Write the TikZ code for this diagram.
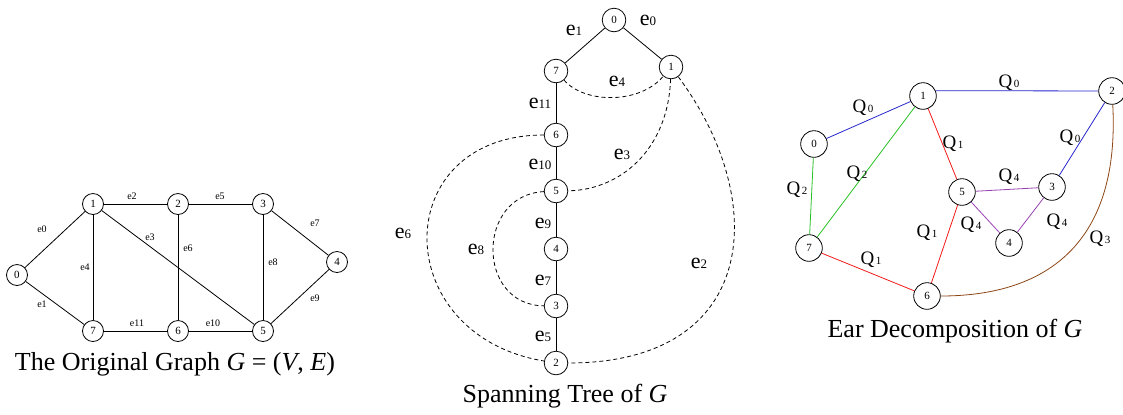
\documentclass[tikz,border=0pt]{standalone}
\usepackage{fontspec}
\setmainfont{Liberation Serif}
\usepackage{xcolor}
\definecolor{EarBlue}{rgb}{0.15, 0.15, 0.8}
\definecolor{EarRed}{rgb}{0.95, 0.1, 0.1}
\definecolor{EarGreen}{rgb}{0.15, 0.75, 0.15}
\definecolor{EarViolet}{rgb}{0.6, 0.25, 0.7}
\definecolor{EarBrown}{rgb}{0.55, 0.27, 0.08}
\usepackage{tikz}
\usetikzlibrary{calc, positioning}
\newcommand{\EL}[1]{{\fontsize{11}{12}\selectfont e}{\fontsize{6.5}{7}\selectfont #1}}
\newcommand{\QL}[1]{Q\kern0.8pt{\fontsize{5.5}{6}\selectfont #1}}

\begin{document}
\begin{tikzpicture}[
        x=0.5pt, y=-0.5pt,
        % Styles
        orig_vertex/.style={circle, draw, inner sep=0pt, minimum size=10.5pt, font=\fontsize{5.5}{6}\selectfont},
        tree_vertex/.style={orig_vertex, minimum size=11.8pt},
        ear_vertex/.style={orig_vertex, minimum size=13.3pt},
        orig_label/.style={inner sep=0pt, font=\fontsize{5}{6}\selectfont},
        tree_label/.style={inner sep=0pt},
        ear_label/.style={inner sep=0pt, font=\fontsize{9.5}{10}\selectfont},
        back_edge/.style={dash pattern=on 2pt off 1.5pt},
        fig_caption/.style={inner sep=0pt, font=\fontsize{13}{15}\selectfont}
    ]
    \useasboundingbox (0,0) rectangle (1123,414);

    % 1. THE ORIGINAL GRAPH
    \node[orig_vertex] (g0) at (17,275) {0};
    \node[orig_vertex] (g1) at (93,204) {1};
    \node[orig_vertex] (g2) at (178,204) {2};
    \node[orig_vertex] (g3) at (263,204) {3};
    \node[orig_vertex] (g4) at (337,262) {4};
    \node[orig_vertex] (g5) at (263,331) {5};
    \node[orig_vertex] (g6) at (178,331) {6};
    \node[orig_vertex] (g7) at (93,331) {7};
    \draw (g0) -- (g1);
    \draw (g0) -- (g7);
    \draw (g1) -- (g2);
    \draw (g1) -- (g5);
    \draw (g1) -- (g7);
    \draw (g2) -- (g3);
    \draw (g2) -- (g6);
    \draw (g3) -- (g4);
    \draw (g3) -- (g5);
    \draw (g4) -- (g5);
    \draw (g5) -- (g6);
    \draw (g6) -- (g7);
    \node[orig_label] (ge0) at (42,229) {e0};
    \node[orig_label] (ge1) at (42,304) {e1};
    \node[orig_label] (ge2) at (132,196) {e2};
    \node[orig_label] (ge3) at (150,237) {e3};
    \node[orig_label] (ge4) at (85,267) {e4};
    \node[orig_label] (ge5) at (220,196) {e5};
    \node[orig_label] (ge6) at (188,248) {e6};
    \node[orig_label] (ge7) at (315,223) {e7};
    \node[orig_label] (ge8) at (273,262) {e8};
    \node[orig_label] (ge9) at (315,298) {e9};
    \node[orig_label] (ge10) at (213,323) {e10};
    \node[orig_label] (ge11) at (137,323) {e11};
    \node[fig_caption] (gcap) at (175,364) {The Original Graph \textit{G} = (\textit{V}, \textit{E})};

    % 2. THE SPANNING TREE (dashed = non-tree edges)
    \node[tree_vertex] (t0) at (614,20) {0};
    \node[tree_vertex] (t1) at (671,67) {1};
    \node[tree_vertex] (t7) at (556,71) {7};
    \node[tree_vertex] (t6) at (556,135) {6};
    \node[tree_vertex] (t5) at (556,191) {5};
    \node[tree_vertex] (t4) at (556,249) {4};
    \node[tree_vertex] (t3) at (556,306) {3};
    \node[tree_vertex] (t2) at (556,363) {2};
    \draw (t0) -- (t1);
    \draw (t0) -- (t7);
    \draw (t7) -- (t6);
    \draw (t6) -- (t5);
    \draw (t5) -- (t4);
    \draw (t4) -- (t3);
    \draw (t3) -- (t2);
    \draw[back_edge] (t7) .. controls (585,104) and (640,104) .. (t1);
    \draw[back_edge] (t1) .. controls (668,150) and (620,190) .. (t5);
    \draw[back_edge] (t1) .. controls (770,200) and (760,363) .. (t2);
    \draw[back_edge] (t6) .. controls (388,135) and (388,335) .. (t2);
    \draw[back_edge] (t5) .. controls (476,195) and (476,305) .. (t3);
    \node[tree_label] (te0) at (648,20) {\EL{0}};
    \node[tree_label] (te1) at (574,30) {\EL{1}};
    \node[tree_label] (te2) at (699,263) {\EL{2}};
    \node[tree_label] (te3) at (622,154) {\EL{3}};
    \node[tree_label] (te4) at (617,81) {\EL{4}};
    \node[tree_label] (te5) at (543,336) {\EL{5}};
    \node[tree_label] (te6) at (403,233) {\EL{6}};
    \node[tree_label] (te7) at (543,280) {\EL{7}};
    \node[tree_label] (te8) at (476,249) {\EL{8}};
    \node[tree_label] (te9) at (543,223) {\EL{9}};
    \node[tree_label] (te10) at (540,164) {\EL{10}};
    \node[tree_label] (te11) at (540,103) {\EL{11}};
    \node[fig_caption] (tcap) at (565,396) {Spanning Tree of \textit{G}};

    % 3. THE EAR DECOMPOSITION
    \node[ear_vertex] (d0) at (814,144) {0};
    \node[ear_vertex] (d1) at (923,96) {1};
    \node[ear_vertex] (d2) at (1112,91) {2};
    \node[ear_vertex] (d3) at (1052,187) {3};
    \node[ear_vertex] (d4) at (1009,243) {4};
    \node[ear_vertex] (d5) at (962,192) {5};
    \node[ear_vertex] (d6) at (927,296) {6};
    \node[ear_vertex] (d7) at (809,248) {7};
    \draw[EarBlue] (d0) -- (d1);
    \draw[EarBlue] (d1.23) -- (d2);
    \draw[EarBlue] (d2) -- (d3);
    \draw[EarRed] (d1) -- (d5);
    \draw[EarRed] (d5) -- (d6);
    \draw[EarRed] (d6) -- (d7);
    \draw[EarGreen] (d0) -- (d7);
    \draw[EarGreen] (d1) -- (d7);
    \draw[EarViolet] (d5) -- (d3);
    \draw[EarViolet] (d5) -- (d4);
    \draw[EarViolet] (d4) -- (d3);
    \draw[EarBrown] (d2) .. controls (1120,240) and (1050,296) .. (d6);
    \node[ear_label] (q01) at (863,108) {\QL{0}};
    \node[ear_label] (q12) at (1009,83) {\QL{0}};
    \node[ear_label] (q23) at (1070,138) {\QL{0}};
    \node[ear_label] (q15) at (953,144) {\QL{1}};
    \node[ear_label] (q56) at (927,233) {\QL{1}};
    \node[ear_label] (q67) at (871,260) {\QL{1}};
    \node[ear_label] (q17) at (857,174) {\QL{2}};
    \node[ear_label] (q07) at (797,190) {\QL{2}};
    \node[ear_label] (q26) at (1100,239) {\QL{3}};
    \node[ear_label] (q53) at (1009,177) {\QL{4}};
    \node[ear_label] (q54) at (971,225) {\QL{4}};
    \node[ear_label] (q43) at (1057,222) {\QL{4}};
    \node[fig_caption] (dcap) at (955,331) {Ear Decomposition of \textit{G}};
\end{tikzpicture}
\end{document}
